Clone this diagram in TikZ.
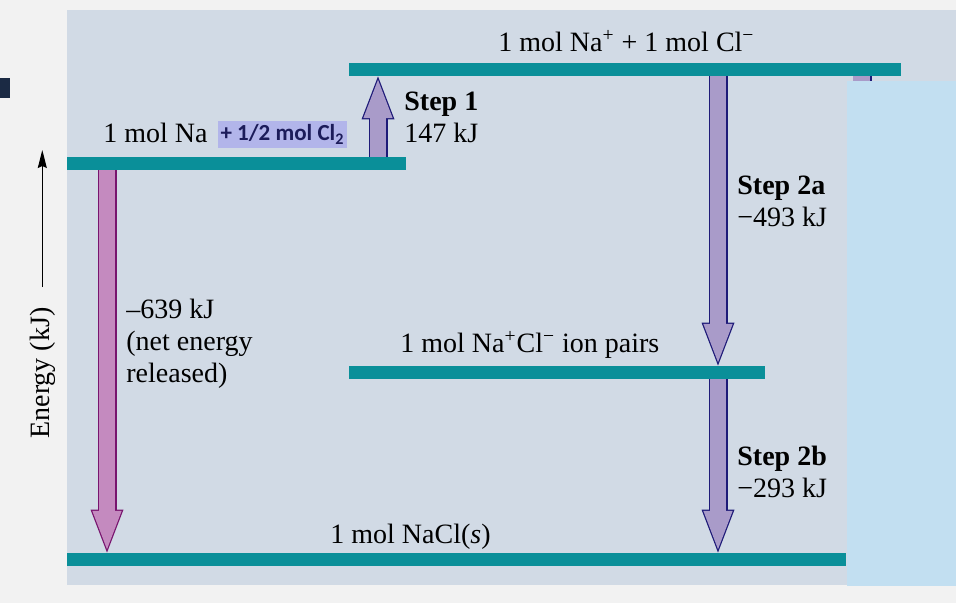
\documentclass[tikz,border=0pt]{standalone}
\usepackage{fontspec}
\setmainfont{Liberation Serif}
\newfontfamily\calibri{Carlito}
\usetikzlibrary{arrows.meta}

\definecolor{outerbg}{RGB}{242,242,242}
\definecolor{panelbg}{RGB}{209,218,229}
\definecolor{sidebg}{RGB}{194,223,241}
\definecolor{navyblock}{RGB}{27,42,68}
\definecolor{levelteal}{RGB}{10,143,153}
\definecolor{netfill}{RGB}{196,138,191}
\definecolor{netedge}{RGB}{120,20,110}
\definecolor{stepfill}{RGB}{169,155,201}
\definecolor{stepedge}{RGB}{30,26,120}
\definecolor{clboxfill}{RGB}{178,181,234}
\definecolor{cltext}{RGB}{28,28,90}

\tikzset{
	level/.style={fill=levelteal, inner sep=0pt, minimum height=6.5pt},
	lbl/.style={inner sep=0pt, anchor=base west, align=left, font=\fontsize{14}{16}\selectfont},
	blockarrow/.style 2 args={draw=#2, line width=9.5pt,
		-{Triangle[width=16.5pt,length=21.5pt,line width=0pt]},
		postaction={draw=#1, line width=8.3pt, shorten >=1.7pt,
			-{Triangle[width=14.7pt,length=19.2pt,line width=0pt]}}},
	netarrow/.style={blockarrow={netfill}{netedge}},
	steparrow/.style={blockarrow={stepfill}{stepedge}},
	axisarrow/.style={line width=0.6pt, -{Stealth[length=9pt,width=4.5pt,inset=1pt]}}
}

\begin{document}
\begin{tikzpicture}[x=0.5pt,y=-0.5pt]
	% background
	\fill[outerbg] (0,0) rectangle (956,603);
	\fill[panelbg] (67,10) rectangle (956,585);
	\fill[sidebg] (847,81) rectangle (956,586);
	\fill[navyblock] (0,78) rectangle (10,98);
	\fill[stepfill] (853,76) rectangle (871,81);
	\draw[stepedge, line width=0.8pt] (871,76) -- (871,81);

	% arrow columns
	\coordinate (netcol) at (107,0);
	\coordinate (s1col) at (378,0);
	\coordinate (s2col) at (718,0);

	% energy levels
	\node[level, minimum width=169.5pt] (na) at (236.5,163.5) {};
	\node[level, minimum width=276pt] (ions) at (625,69.5) {};
	\node[level, minimum width=208pt] (pairs) at (557,372.5) {};
	\node[level, minimum width=389.5pt] (nacl) at (456.5,559.5) {};

	% steps
	\draw[netarrow] (na.south -| netcol) -- (nacl.north -| netcol);
	\draw[steparrow] (na.north -| s1col) -- (ions.south -| s1col);
	\draw[steparrow] (ions.south -| s2col) -- (pairs.north -| s2col);
	\draw[steparrow] (pairs.south -| s2col) -- (nacl.north -| s2col);

	% redraw the levels over the arrow ends
	\fill[levelteal] (na.south west) rectangle (na.north east);
	\fill[levelteal] (ions.south west) rectangle (ions.north east);
	\fill[levelteal] (pairs.south west) rectangle (pairs.north east);
	\fill[levelteal] (nacl.south west) rectangle (nacl.north east);

	% labels (base = last line)
	\node[lbl] (ionslbl) at (498,52) {1 mol Na\textsuperscript{+} + 1 mol Cl\textsuperscript{−}};
	\node[lbl] (nalbl) at (103,143) {1 mol Na};
	\node[fill=clboxfill, text=cltext, inner sep=0pt, minimum width=64.5pt, minimum height=13.5pt,
		font=\calibri\bfseries\fontsize{11.5}{13}\selectfont] (cl2) at (282.5,134.5) {+ 1/2 mol Cl\textsubscript{2}};
	\node[lbl] (s1lbl) at (404,143) {\textbf{Step 1}\\147 kJ};
	\node[lbl] (s2albl) at (737,227) {\textbf{Step 2a}\\−493 kJ};
	\node[lbl] (s2blbl) at (737,497) {\textbf{Step 2b}\\−293 kJ};
	\node[lbl] (netlbl) at (126,382) {–639 kJ\\(net energy\\released)};
	\node[lbl] (pairslbl) at (400,353) {1 mol Na\textsuperscript{+}Cl\textsuperscript{−} ion pairs};
	\node[lbl] (nacllbl) at (330,543) {1 mol NaCl(\textit{s})};

	% energy axis
	\node[lbl, rotate=90, anchor=base] (elabel) at (49,373) {Energy (kJ)};
	\coordinate (etop) at (40,150);
	\draw[axisarrow, shorten <=10pt] (elabel.east) -- (elabel.east |- etop);
\end{tikzpicture}
\end{document}
